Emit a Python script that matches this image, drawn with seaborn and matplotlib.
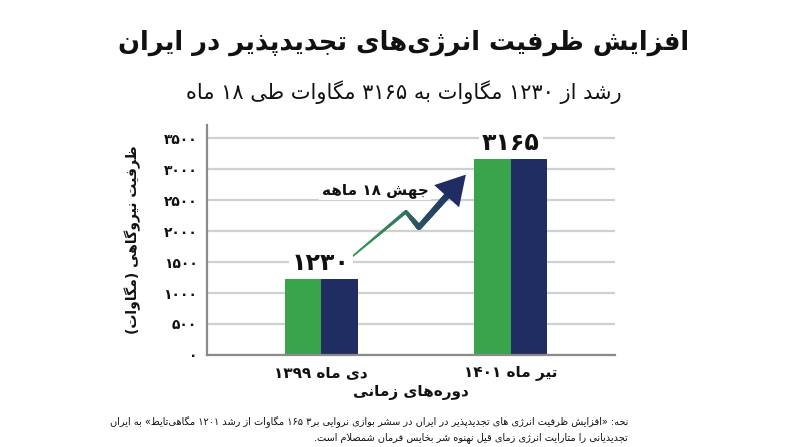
import re
import numpy as np
import pandas as pd
import seaborn as sns
import matplotlib
matplotlib.use("Agg")
import matplotlib.pyplot as plt
from matplotlib.collections import LineCollection
from matplotlib.colors import to_rgb

# ------ data ------
periods = ["دی ماه ۱۳۹۹", "تیر ماه ۱۴۰۱"]
capacity = [1230, 3165]
parts = ["a", "b"]
yticks = [0, 500, 1000, 1500, 2000, 2500, 3000, 3500]

title = "افزایش ظرفیت انرژی‌های تجدیدپذیر در ایران"
subtitle = "رشد از ۱۲۳۰ مگاوات به ۳۱۶۵ مگاوات طی ۱۸ ماه"
ylabel = "ظرفیت نیروگاهی (مگاوات)"
xlabel = "دوره‌های زمانی"
jump_label = "جهش ۱۸ ماهه"
note1 = "نحه: «افزایش ظرفیت انرژی های تجدیدپذیر در ایران در سشر بوازی نروایی بر۳ ۱۶۵ مگاوات از رشد ۱۲۰۱ مگاهی‌تایط» به ایران"
note2 = "تجدیدیانی را متارایت انرژی زمای قیل نهنوه شر بخایس فرمان شمصلام است."

green = "#3aa44c"
navy = "#1f2d63"
ink = "#111111"

# ------ persian shaping (no bidi libs available) ------
# isolated, final, initial, medial
FORMS = {
    'ا': ('\uFE8D', '\uFE8E', None, None), 'آ': ('\uFE81', '\uFE82', None, None),
    'ب': ('\uFE8F', '\uFE90', '\uFE91', '\uFE92'), 'پ': ('\uFB56', '\uFB57', '\uFB58', '\uFB59'),
    'ت': ('\uFE95', '\uFE96', '\uFE97', '\uFE98'), 'ث': ('\uFE99', '\uFE9A', '\uFE9B', '\uFE9C'),
    'ج': ('\uFE9D', '\uFE9E', '\uFE9F', '\uFEA0'), 'چ': ('\uFB7A', '\uFB7B', '\uFB7C', '\uFB7D'),
    'ح': ('\uFEA1', '\uFEA2', '\uFEA3', '\uFEA4'), 'خ': ('\uFEA5', '\uFEA6', '\uFEA7', '\uFEA8'),
    'د': ('\uFEA9', '\uFEAA', None, None), 'ذ': ('\uFEAB', '\uFEAC', None, None),
    'ر': ('\uFEAD', '\uFEAE', None, None), 'ز': ('\uFEAF', '\uFEB0', None, None),
    'ژ': ('\uFB8A', '\uFB8B', None, None),
    'س': ('\uFEB1', '\uFEB2', '\uFEB3', '\uFEB4'), 'ش': ('\uFEB5', '\uFEB6', '\uFEB7', '\uFEB8'),
    'ص': ('\uFEB9', '\uFEBA', '\uFEBB', '\uFEBC'), 'ض': ('\uFEBD', '\uFEBE', '\uFEBF', '\uFEC0'),
    'ط': ('\uFEC1', '\uFEC2', '\uFEC3', '\uFEC4'), 'ظ': ('\uFEC5', '\uFEC6', '\uFEC7', '\uFEC8'),
    'ع': ('\uFEC9', '\uFECA', '\uFECB', '\uFECC'), 'غ': ('\uFECD', '\uFECE', '\uFECF', '\uFED0'),
    'ف': ('\uFED1', '\uFED2', '\uFED3', '\uFED4'), 'ق': ('\uFED5', '\uFED6', '\uFED7', '\uFED8'),
    'ک': ('\uFB8E', '\uFB8F', '\uFB90', '\uFB91'), 'گ': ('\uFB92', '\uFB93', '\uFB94', '\uFB95'),
    'ل': ('\uFEDD', '\uFEDE', '\uFEDF', '\uFEE0'), 'م': ('\uFEE1', '\uFEE2', '\uFEE3', '\uFEE4'),
    'ن': ('\uFEE5', '\uFEE6', '\uFEE7', '\uFEE8'), 'ه': ('\uFEE9', '\uFEEA', '\uFEEB', '\uFEEC'),
    'و': ('\uFEED', '\uFEEE', None, None),
    'ی': ('\uFBFC', '\uFBFD', '\uFBFE', '\uFBFF'), 'ئ': ('\uFE89', '\uFE8A', '\uFE8B', '\uFE8C'),
}
MIRROR = {'(': ')', ')': '(', '«': '»', '»': '«'}


def shape(text):
    out = []
    i = 0
    while i < len(text):
        c = text[i]
        if c not in FORMS:
            out.append(c)
            i += 1
            continue
        prev = text[i - 1] if i > 0 else None
        nxt = text[i + 1] if i + 1 < len(text) else None
        jp = prev in FORMS and FORMS[prev][2] is not None
        if c == 'ل' and nxt == 'ا':
            out.append('\uFEFC' if jp else '\uFEFB')
            i += 2
            continue
        jn = nxt in FORMS and FORMS[c][2] is not None
        iso, fin, ini, med = FORMS[c]
        out.append(med if jp and jn else fin if jp else ini if jn else iso)
        i += 1
    return ''.join(out).replace('\u200c', '')


def rtl(text):
    s = shape(text)
    runs = re.findall(r'[0-9۰-۹]+|[^0-9۰-۹]+', s)
    out = []
    for r in reversed(runs):
        if r[0].isdigit():
            out.append(r)
        else:
            out.append(''.join(MIRROR.get(ch, ch) for ch in reversed(r)))
    return ''.join(out)


def fa_num(v):
    return str(int(v)).translate(str.maketrans("0123456789", "۰۱۲۳۴۵۶۷۸۹"))


# ------ plot ------
sns.set_style("white")
plt.rcParams['font.family'] = ['DejaVu Sans']
plt.rcParams['text.color'] = ink
plt.rcParams['axes.labelcolor'] = ink
plt.rcParams['xtick.color'] = ink
plt.rcParams['ytick.color'] = ink

df = pd.DataFrame({
    "period": [p for p in periods for _ in parts],
    "part": parts * len(periods),
    "capacity": [c for c in capacity for _ in parts],
})

fig = plt.figure(figsize=(8, 4.47), dpi=100)
ax = fig.add_axes([0.259, 0.206, 0.51, 0.515])

sns.barplot(data=df, x="period", y="capacity", hue="part", palette=[green, navy],
            width=0.385, gap=0, dodge=True, legend=False, ax=ax, saturation=1,
            linewidth=0, edgecolor="none")

ax.set_xlim(-0.6, 1.55)
ax.set_ylim(0, 3720)
ax.set_yticks(yticks)
ax.set_yticklabels([fa_num(t) for t in yticks], fontweight="bold", fontsize=10)
ax.set_xticks(range(len(periods)))
ax.set_xticklabels([rtl(p) for p in periods], fontweight="bold", fontsize=11)
ax.tick_params(axis="both", length=0, pad=7)
ax.yaxis.grid(True, color="#d0d0d0", linewidth=1.6)
ax.set_axisbelow(True)
for s in ["top", "right"]:
    ax.spines[s].set_visible(False)
for s in ["left", "bottom"]:
    ax.spines[s].set_color("#8a8a8a")
    ax.spines[s].set_linewidth(1.6)

ax.set_xlabel(rtl(xlabel), fontweight="bold", fontsize=11, labelpad=4)
ax.set_ylabel(rtl(ylabel), fontweight="bold", fontsize=10, labelpad=16)

# value labels above bars
for i, v in enumerate(capacity):
    ax.annotate(fa_num(v), xy=(i, v), xytext=(0, 3), textcoords="offset points",
                ha="center", va="bottom", fontsize=17, fontweight="bold",
                bbox=dict(facecolor="white", edgecolor="none", pad=2))

# zigzag growth arrow between the two bars
gap = capacity[1] - capacity[0]
arrow_x = [0.16, 0.447, 0.516, 0.763]
arrow_y = [capacity[0] + 0.18 * gap, capacity[0] + 0.56 * gap,
           capacity[0] + 0.43 * gap, capacity[0] + 0.87 * gap]
pts = []
for k in range(len(arrow_x) - 1):
    t = np.linspace(0, 1, 40, endpoint=False)
    pts += list(zip(arrow_x[k] + t * (arrow_x[k + 1] - arrow_x[k]),
                    arrow_y[k] + t * (arrow_y[k + 1] - arrow_y[k])))
pts.append((arrow_x[-1], arrow_y[-1]))
pts = np.array(pts)
segs = np.stack([pts[:-1], pts[1:]], axis=1)
frac = np.linspace(0, 1, len(segs))
c0, c1 = np.array(to_rgb("#3f9a5a")), np.array(to_rgb(navy))
cols = [tuple(c0 + f * (c1 - c0)) for f in frac]
lc = LineCollection(segs[:-6], colors=cols[:-6], linewidths=1.2 + 4.0 * frac[:-6],
                    capstyle="round", joinstyle="round")
ax.add_collection(lc)
ax.annotate("", xy=(arrow_x[-1], arrow_y[-1]), xytext=(arrow_x[-2], arrow_y[-2]),
            arrowprops=dict(arrowstyle="-|>,head_length=1.3,head_width=0.75",
                            mutation_scale=16, color=navy, lw=0,
                            shrinkA=0, shrinkB=0))

ax.text(0.285, capacity[0] + 0.74 * gap, rtl(jump_label), ha="center", va="center",
        fontsize=11, fontweight="bold",
        bbox=dict(facecolor="white", edgecolor="none", pad=2))

# titles
fig.text(0.505, 0.905, rtl(title), ha="center", va="center", fontsize=18.5, fontweight="bold")
fig.text(0.505, 0.795, rtl(subtitle), ha="center", va="center", fontsize=15)

# footnote
fig.text(0.785, 0.055, rtl(note1), ha="right", va="center", fontsize=7)
fig.text(0.785, 0.022, rtl(note2), ha="right", va="center", fontsize=7)

fig.savefig("out.png", dpi=100)
